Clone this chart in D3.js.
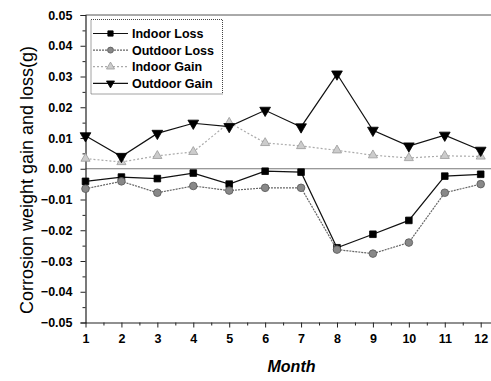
<!DOCTYPE html>
<html>
<head>
<meta charset="utf-8">
<script src="https://cdn.jsdelivr.net/npm/d3@7"></script>
<style>
  html, body { margin: 0; padding: 0; background: #fff; }
  svg { display: block; font-family: "Liberation Sans", Arial, sans-serif; }
</style>
</head>
<body>
<svg id="chart" width="491" height="381"></svg>
<script>
// Monthly corrosion weight change (g)
const months = [1, 2, 3, 4, 5, 6, 7, 8, 9, 10, 11, 12];
const indoorLoss  = [-0.0041, -0.0027, -0.0032, -0.0014, -0.0050, -0.0008, -0.0011, -0.0257, -0.0213, -0.0168, -0.0024, -0.0018];
const outdoorLoss = [-0.0065, -0.0041, -0.0078, -0.0056, -0.0071, -0.0062, -0.0062, -0.0263, -0.0276, -0.0240, -0.0078, -0.0050];
const indoorGain  = [0.0033, 0.0022, 0.0042, 0.0055, 0.0150, 0.0084, 0.0074, 0.0060, 0.0044, 0.0035, 0.0042, 0.0040];
const outdoorGain = [0.0107, 0.0040, 0.0115, 0.0148, 0.0137, 0.0190, 0.0136, 0.0308, 0.0125, 0.0074, 0.0109, 0.0060];
const yTicks = [0.05, 0.04, 0.03, 0.02, 0.01, 0.00, -0.01, -0.02, -0.03, -0.04, -0.05];
const seriesNames = ["Indoor Loss", "Outdoor Loss", "Indoor Gain", "Outdoor Gain"];

const svg = d3.select("#chart");
const plotL = 85.5, plotR = 480.7, plotT = 15, plotB = 322.5;

const x = d3.scaleLinear().domain([1, 12]).range([plotL, plotR]);
const y = d3.scaleLinear().domain([-0.05, 0.05]).range([plotB, plotT]);

// plot frame (top edge runs off to the right side)
svg.append("line").attr("x1", plotL).attr("x2", 495).attr("y1", plotT).attr("y2", plotT)
  .attr("stroke", "#555").attr("stroke-width", 1);

// zero reference line
svg.append("line").attr("x1", plotL).attr("x2", 495).attr("y1", y(0)).attr("y2", y(0))
  .attr("stroke", "#777").attr("stroke-width", 1.2);

// y axis
svg.append("g").attr("transform", `translate(${plotL},0)`)
  .call(d3.axisLeft(y).tickValues(yTicks).tickFormat(d3.format(".2f")).tickSize(5).tickPadding(8));
svg.append("g").attr("transform", `translate(${plotL},0)`)
  .call(d3.axisLeft(y).tickValues(d3.range(-0.045, 0.05, 0.01)).tickFormat("").tickSize(3))
  .call(g => g.select(".domain").remove());

// x axis
const xAxis = svg.append("g").attr("transform", `translate(0,${plotB})`)
  .call(d3.axisBottom(x).tickValues(months).tickFormat(d3.format("d")).tickSize(5).tickPadding(7));
svg.append("g").attr("transform", `translate(0,${plotB})`)
  .call(d3.axisBottom(x).tickValues(d3.range(1.5, 12.5, 1)).tickFormat("").tickSize(3))
  .call(g => g.select(".domain").remove());
xAxis.select(".domain").attr("d", `M${plotL},0.5H495`);

svg.selectAll(".tick line").attr("stroke", "#222");
svg.selectAll(".domain").attr("stroke", "#222").attr("stroke-width", 1.2);
svg.selectAll(".tick text").attr("fill", "#000").attr("font-size", 12.5).attr("font-weight", "bold")
  .attr("font-family", "Liberation Sans, Arial, sans-serif");

// axis titles
svg.append("text").attr("transform", `translate(33,180) rotate(-90)`)
  .attr("text-anchor", "middle").attr("font-size", 18).attr("fill", "#000")
  .text("Corrosion weight gain and loss(g)");
svg.append("text").attr("x", 291.5).attr("y", 372).attr("text-anchor", "middle")
  .attr("font-size", 16).attr("font-weight", "bold").attr("font-style", "italic").attr("fill", "#000")
  .text("Month");

const series = [
  { name: seriesNames[0], values: indoorLoss,  line: "#111", dash: null,  marker: "square",   fill: "#000", stroke: "#000" },
  { name: seriesNames[1], values: outdoorLoss, line: "#666", dash: "2,1", marker: "circle",   fill: "#888", stroke: "#555" },
  { name: seriesNames[2], values: indoorGain,  line: "#aaa", dash: "2,2", marker: "triUp",    fill: "#ccc", stroke: "#999" },
  { name: seriesNames[3], values: outdoorGain, line: "#111", dash: null,  marker: "triDown",  fill: "#000", stroke: "#000" }
];

const symbolFor = {
  square:  d3.symbol().type(d3.symbolSquare).size(44),
  circle:  d3.symbol().type(d3.symbolCircle).size(46),
  triUp:   d3.symbol().type(d3.symbolTriangle).size(36),
  triDown: d3.symbol().type(d3.symbolTriangle).size(50)
};

const line = d3.line().x((d, i) => x(months[i])).y(d => y(d));

series.forEach(s => {
  svg.append("path").datum(s.values).attr("d", line)
    .attr("fill", "none").attr("stroke", s.line).attr("stroke-width", 1.2)
    .attr("stroke-dasharray", s.dash);
  svg.append("g").selectAll("path").data(s.values).join("path")
    .attr("transform", (d, i) => `translate(${x(months[i])},${y(d)})${s.marker === "triDown" ? " rotate(180)" : ""}`)
    .attr("d", symbolFor[s.marker]())
    .attr("fill", s.fill).attr("stroke", s.stroke).attr("stroke-width", 0.8);
});

// legend
const lg = svg.append("g");
lg.append("rect").attr("x", 91).attr("y", 19.5).attr("width", 131.5).attr("height", 74.5)
  .attr("fill", "#fff").attr("stroke", "#444").attr("stroke-width", 1).attr("stroke-dasharray", "1,1");
series.forEach((s, i) => {
  const cy = 33.5 + i * 16.6;
  lg.append("line").attr("x1", 93).attr("x2", 128).attr("y1", cy).attr("y2", cy)
    .attr("stroke", s.line).attr("stroke-width", 1.2).attr("stroke-dasharray", s.dash);
  lg.append("path").attr("transform", `translate(110.5,${cy})${s.marker === "triDown" ? " rotate(180)" : ""}`)
    .attr("d", d3.symbol().type(s.marker === "square" ? d3.symbolSquare : s.marker === "circle" ? d3.symbolCircle : d3.symbolTriangle).size(28)())
    .attr("fill", s.fill).attr("stroke", s.stroke).attr("stroke-width", 0.8);
  lg.append("text").attr("x", 132).attr("y", cy + 4.5).attr("font-size", 12.5).attr("font-weight", "bold")
    .attr("fill", "#000").text(s.name);
});
</script>
</body>
</html>
